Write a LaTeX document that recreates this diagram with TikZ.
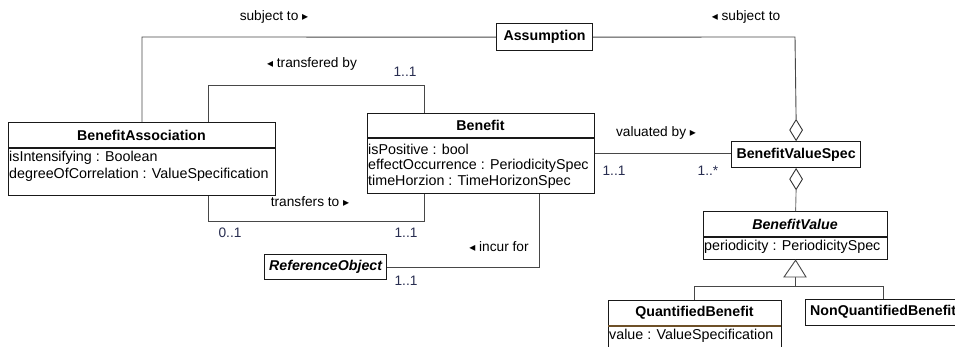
\documentclass[tikz,border=0pt]{standalone}
\usepackage{fontspec}
\setmainfont{Liberation Sans}
\newfontfamily\symfont{DejaVu Sans}
\usetikzlibrary{shapes.geometric}
\definecolor{multc}{RGB}{40,45,80}
\definecolor{sepbrown}{RGB}{110,80,40}
\newcommand{\rtri}{{\symfont\fontsize{12}{12}\selectfont ▸}}
\newcommand{\ltri}{{\symfont\fontsize{12}{12}\selectfont ◂}}
\begin{document}
\begin{tikzpicture}[x=1pt,y=-1pt,
 box/.style={draw=black!90, line width=1.2pt, fill=white, inner sep=0pt, anchor=north west},
 sepline/.style={draw=black!90, line width=1.1pt},
 conn/.style={draw=black!72, line width=0.9pt},
 ttl/.style={font=\fontsize{14.2}{16}\selectfont\bfseries, inner sep=0pt},
 attr/.style={font=\fontsize{14.3}{16}\selectfont, inner sep=0pt, anchor=west},
 lbl/.style={font=\fontsize{13.7}{16}\selectfont, inner sep=0pt},
 mult/.style={font=\fontsize{13.7}{16}\selectfont, inner sep=0pt, text=multc},
 agg/.style={diamond, draw=black!80, line width=0.9pt, fill=white, inner sep=0pt, minimum width=13pt, minimum height=21pt, shape aspect=0.6},
]
\clip (0,0) rectangle (955,346);
\fill[white] (0,0) rectangle (955,346);

% boxes
\node[box, minimum width=96pt, minimum height=27pt] (asm) at (496,23) {};
\node[ttl] (asmt) at (asm.center) {Assumption};

\node[box, minimum width=267pt, minimum height=73pt] (ba) at (8,122) {};
\draw[sepline] (8,148) -- (275,148);
\node[ttl] (bat) at (141.5,135) {BenefitAssociation};
\node[attr] (ba1) at (9,158) {isIntensifying : Boolean};
\node[attr] (ba2) at (9,175) {degreeOfCorrelation : ValueSpecification};

\node[box, minimum width=227pt, minimum height=80pt] (ben) at (367,113) {};
\draw[sepline] (367,138) -- (594,138);
\node[ttl] (bent) at (480.5,125.5) {Benefit};
\node[attr] (ben1) at (368,149) {isPositive : bool};
\node[attr] (ben2) at (368,166) {effectOccurrence : PeriodicitySpec};
\node[attr] (ben3) at (368,182) {timeHorzion : TimeHorizonSpec};

\node[box, minimum width=122pt, minimum height=25pt] (ref) at (264,254) {};
\node[ttl, font=\fontsize{14.2}{16}\selectfont\bfseries\itshape] (reft) at (ref.center) {ReferenceObject};

\node[box, minimum width=129pt, minimum height=26pt] (bvs) at (731,141) {};
\node[ttl] (bvst) at (bvs.center) {BenefitValueSpec};

\node[box, minimum width=184pt, minimum height=48pt] (bv) at (703,211) {};
\draw[sepline] (703,237) -- (887,237);
\node[ttl, font=\fontsize{14.2}{16}\selectfont\bfseries\itshape] (bvt) at (795,224) {BenefitValue};
\node[attr] (bv1) at (704,247) {periodicity : PeriodicitySpec};

\node[box, minimum width=173pt, minimum height=60pt] (qb) at (608,300) {};
\draw[sepline, draw=sepbrown] (608,326) -- (781,326);
\node[ttl] (qbt) at (694.5,313) {QuantifiedBenefit};
\node[attr] (qb1) at (609,336) {value : ValueSpecification};

\node[box, minimum width=170pt, minimum height=26pt] (nqb) at (805,299) {};
\node[ttl, anchor=west] (nqbt) at (810,312) {NonQuantifiedBenefit};

% subject to
\coordinate (sl) at (142,37);
\coordinate (sr) at (795,37);
\node[agg, anchor=south] (d1) at (bvs.north) {};
\draw[conn] (asm.west) -- (sl) -- (sl |- ba.north);
\draw[conn] (asm.east) -- (sr) -- (d1.north);
\node[lbl] (l1) at (274,17) {subject to \rtri};
\node[lbl] (l2) at (746,17) {\ltri\ subject to};

% transfered by
\coordinate (tb1) at (208,85);
\coordinate (tb2) at (424,85);
\draw[conn] (tb1 |- ba.north) -- (tb1) -- (tb2) -- (tb2 |- ben.north);
\node[lbl] (l3) at (312,64) {\ltri\ transfered by};
\node[mult] (m1) at (405,72) {1..1};

% transfers to
\coordinate (tt1) at (208,221);
\coordinate (tt2) at (424,221);
\draw[conn] (tt1 |- ba.south) -- (tt1) -- (tt2) -- (tt2 |- ben.south);
\node[lbl] (l4) at (310,202) {transfers to \rtri};
\node[mult] (m2) at (230,233) {0..1};
\node[mult] (m3) at (406,233) {1..1};

% incur for
\coordinate (ic) at (539,267);
\draw[conn] (ic |- ben.south) -- (ic) -- (ic -| ref.east);
\node[lbl] (l5) at (499,247) {\ltri\ incur for};
\node[mult] (m4) at (406,281) {1..1};

% valuated by
\draw[conn] (ben.east) -- (ben.east -| bvs.west);
\node[lbl] (l6) at (656,133) {valuated by \rtri};
\node[mult] (m5) at (614,171) {1..1};
\node[mult] (m6) at (708,171) {1..*};

% aggregation to BenefitValue
\node[agg, anchor=north] (d2) at (bvs.south) {};
\draw[conn, draw=black!55] (d2.south) -- (bv.north);

% generalization
\coordinate (gb) at (795,277);
\coordinate (gh) at (795,286);
\coordinate (gq) at (694.5,286);
\coordinate (gn) at (883,286);
\draw[conn] (gb) -- (gh);
\draw[conn] (gq |- qb.north) -- (gq) -- (gn) -- (gn |- nqb.north);
\draw[conn, fill=white, line join=miter] (bv.south) -- (806,277) -- (784,277) -- cycle;
\end{tikzpicture}
\end{document}
